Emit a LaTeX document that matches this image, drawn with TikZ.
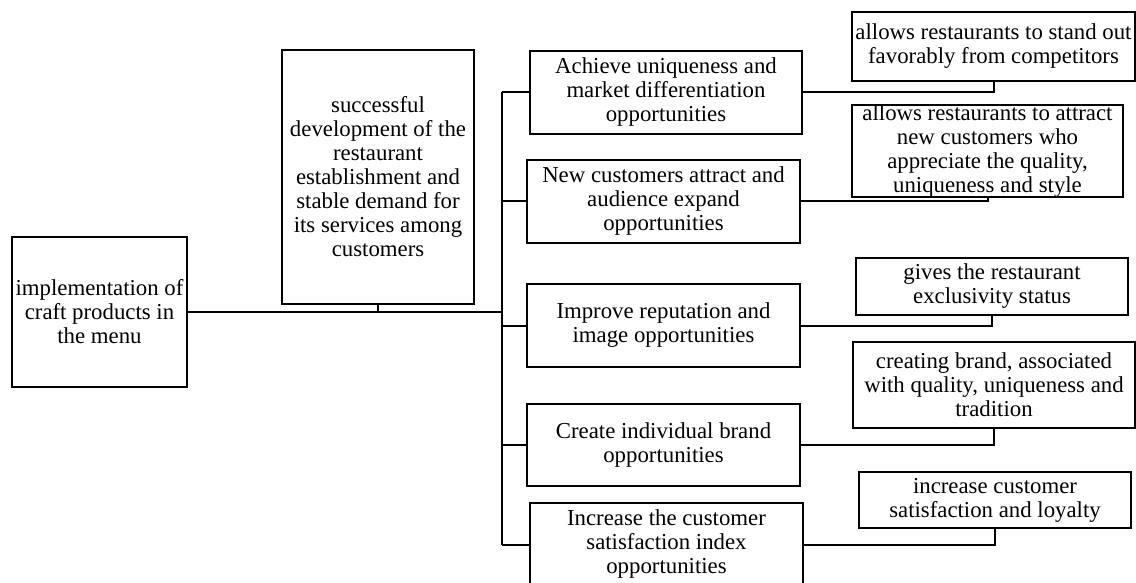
\documentclass[tikz,border=0pt]{standalone}
\usepackage{fontspec}
\setmainfont{Liberation Serif}
\usetikzlibrary{positioning, calc}
\newcommand{\branch}[2]
{
	\draw (#1.east) -| (#2.south)
}

\begin{document}
\begin{tikzpicture}[x=0.5pt, y=-0.5pt, line width=1pt, every node/.append style={shape=rectangle, align=center, draw=black, inner sep=0pt, font=\fontsize{11.4}{12}\selectfont}]
	\useasboundingbox (0,0) rectangle (1136,583);
	\node[minimum width=87.5pt, minimum height=75pt] at (99.5,312) (impl) {implementation of\\craft products in\\the menu};
	\node[minimum width=96pt, minimum height=127pt] at (378,177) (succ) {successful\\development of the\\restaurant\\establishment and\\stable demand for\\its services among\\customers};
	\node[minimum width=136pt, minimum height=41.5pt] at (666,92.5) (m1) {Achieve uniqueness and\\market differentiation\\opportunities};
	\node[minimum width=136.5pt, minimum height=41.5pt] at (663.5,201.5) (m2) {New customers attract and\\audience expand\\opportunities};
	\node[minimum width=136.5pt, minimum height=41.5pt] at (663.5,325.5) (m3) {Improve reputation and\\image opportunities};
	\node[minimum width=136.5pt, minimum height=41pt] at (663.5,445) (m4) {Create individual brand\\opportunities};
	\node[minimum width=136.5pt, minimum height=41.5pt] at (666.5,544.5) (m5) {Increase the customer\\satisfaction index\\opportunities};
	\node[minimum width=141.5pt, minimum height=34.5pt] at (993.5,46.5) (r1) {allows restaurants to stand out\\favorably from competitors};
	\node[minimum width=135.5pt, minimum height=46pt] at (987.5,151) (r2) {allows restaurants to attract\\new customers who\\appreciate the quality,\\uniqueness and style};
	\node[minimum width=136pt, minimum height=28.5pt] at (992,286.5) (r3) {gives the restaurant\\exclusivity status};
	\node[minimum width=141pt, minimum height=43pt] at (994,385) (r4) {creating brand, associated\\with quality, uniqueness and\\tradition};
	\node[minimum width=136pt, minimum height=28pt] at (995,500) (r5) {increase customer\\satisfaction and loyalty};
	\coordinate (bus) at (502,92);
	\draw (impl.east) -- (impl.east -| bus);
	\draw (succ.south) -- (succ.south |- impl.east);
	\draw (m1.west -| bus) -- (m5.west -| bus);
	\foreach \i in {1,...,5} {
		\draw (m\i.west) -- (m\i.west -| bus);
		\branch{m\i}{r\i};
	}
\end{tikzpicture}
\end{document}
